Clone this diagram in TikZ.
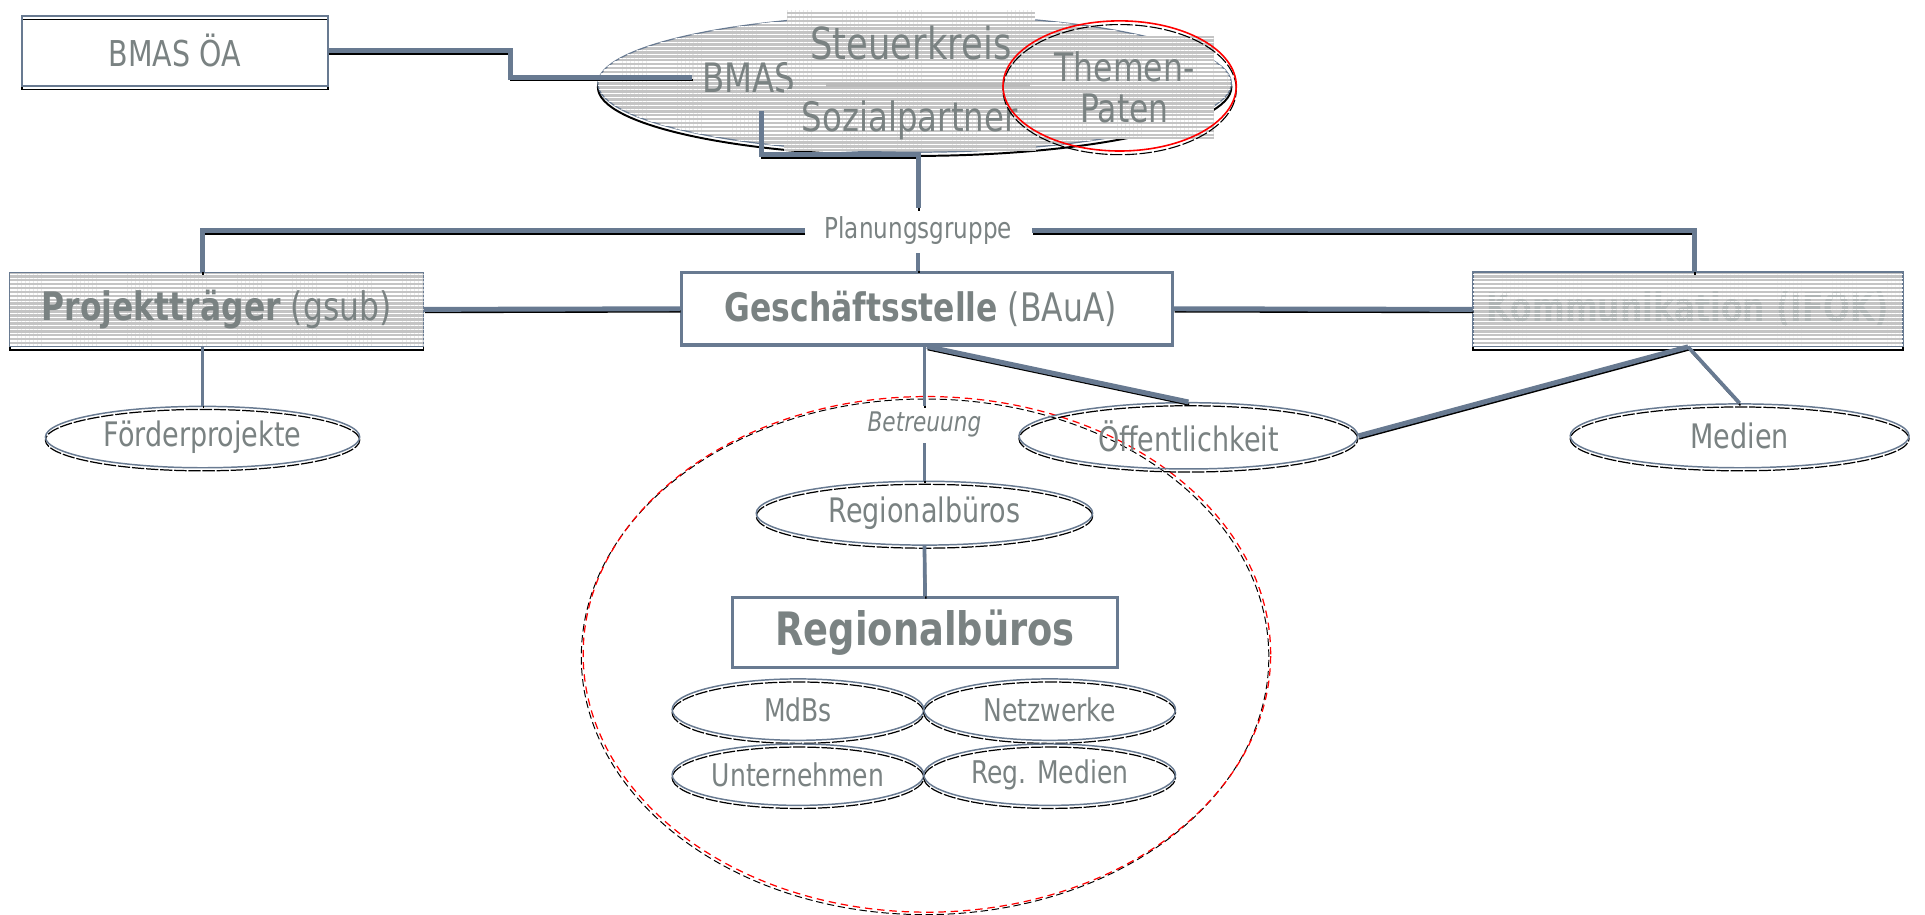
\documentclass[tikz,border=0pt]{standalone}
\usepackage{fontspec}
\setmainfont{DejaVu Sans}[FakeStretch=0.8]
\usetikzlibrary{shapes.geometric,patterns.meta,shadows}
\definecolor{slate}{HTML}{687A91}
\definecolor{txt}{HTML}{7A8282}
\definecolor{stripegray}{HTML}{C4C4C4}
\definecolor{bargray}{HTML}{BABABA}
\newcommand\setfs[1]{\fontsize{#1}{#1}\selectfont}
\tikzset{
  stripes/.style={fill=stripegray, postaction={pattern={Lines[angle=0,distance=3.2pt,line width=1.1pt]}, pattern color=white}},
  plate/.style={rectangle, stripes, text=txt, inner sep=0pt},
  boxw/.style={rectangle, draw=slate, line width=1.3pt, text=txt, inner sep=0pt},
  boxshadow/.style={general shadow={draw=black, line width=1.3pt, shadow yshift=-3pt}},
  ell/.style={ellipse, draw=slate, line width=1.2pt, text=txt, inner sep=0pt,
    general shadow={draw=black, line width=1pt, dash pattern=on 10pt off 1.5pt, shadow yshift=-2.5pt}},
  conn/.style={draw=slate, line width=4pt,
    general shadow={draw=black, line width=1.8pt, shadow yshift=-2.2pt, shadow xshift=0.6pt}},
  connthin/.style={draw=slate, line width=3pt,
    general shadow={draw=black, line width=1.2pt, shadow yshift=-1.8pt, shadow xshift=0.6pt}},
  lbl/.style={text=txt, inner sep=0pt}
}
\begin{document}
\begin{tikzpicture}[x=1pt,y=-1pt]
\useasboundingbox (0,0) rectangle (1568,745);
\fill[white] (0,0) rectangle (1568,745);

% big dashed region
\node[ellipse, draw=red, line width=1pt, dash pattern=on 6pt off 4pt, minimum width=560, minimum height=420, inner sep=0pt,
  general shadow={draw=black, line width=0.8pt, dash pattern=on 6pt off 3pt, shadow yshift=-2pt, shadow xshift=-1.5pt}] (region) at (755,533) {};

% Steuerkreis cluster
\node[ellipse, draw=slate, line width=1pt, stripes, minimum width=516, minimum height=112, inner sep=0pt,
  general shadow={draw=black, line width=1.6pt, shadow yshift=-3pt}] (skell) at (745,68) {};
\node[plate, minimum width=92, minimum height=54, font=\setfs{33}] (bmas) at (610,63) {BMAS};
\node[plate, minimum width=202, minimum height=54, font=\setfs{36}] (steuer) at (742,35) {Steuerkreis};
\node[plate, minimum width=205, minimum height=50, font=\setfs{33}] (sozial) at (741,98) {Sozialpartner};
\fill[bargray] (673,68) rectangle (839,71);
\node[plate, minimum width=145, minimum height=84, align=center, font=\fontsize{32}{33}\selectfont] (themen) at (916,71) {Themen-\\Paten};
\node[ellipse, draw=red, line width=1.3pt, minimum width=190, minimum height=106, inner sep=0pt,
  general shadow={draw=black, line width=0.9pt, dash pattern=on 10pt off 2pt, shadow yshift=-3pt}] (tpell) at (912,70) {};

% BMAS OA
\node[boxw, boxshadow, minimum width=249, minimum height=57, font=\setfs{29}] (bmasoa) at (142.5,41.5) {BMAS ÖA};

% Planungsgruppe
\node[lbl, font=\setfs{23.5}, minimum width=185, minimum height=36] (plan) at (748,188) {Planungsgruppe};

% main row
\node[rectangle, stripes, draw=slate, line width=1pt, text=txt, inner sep=0pt, boxshadow, minimum width=337, minimum height=60, font=\setfs{32}] (pt) at (176.5,252) {\textbf{Projektträger} (gsub)};
\node[boxw, line width=2.5pt, fill=white, minimum width=400, minimum height=59, font=\setfs{32}] (gs) at (755,251.5) {\textbf{Geschäftsstelle} (BAuA)\hspace*{10pt}};
\node[rectangle, stripes, draw=slate, line width=1pt, text=txt!60, inner sep=0pt, boxshadow, minimum width=350, minimum height=60, font=\setfs{32}\bfseries] (kom) at (1375,252) {Kommunikation (IFOK)};
\fill[pattern={Lines[angle=0,distance=3.2pt,line width=1.1pt]}, pattern color=white] (kom.north west) rectangle (kom.south east);
\draw[slate, line width=1pt] (kom.north west) rectangle (kom.south east);

% second row ellipses
\node[ell, minimum width=256, minimum height=50, font=\setfs{27.5}] (fp) at (165,356) {Förderprojekte};
\node[ell, minimum width=276, minimum height=54, font=\setfs{27.5}] (oe) at (968,355) {Öffentlichkeit};
\node[ell, minimum width=276, minimum height=52, font=\setfs{27.5}] (me) at (1417,355) {Medien};

% region content
\node[lbl, font=\setfs{22}\itshape, minimum height=30] (betr) at (753,346) {Betreuung};
\node[ell, minimum width=274, minimum height=52, font=\setfs{27.5}] (rb1) at (753,418) {Regionalbüros};
\node[boxw, line width=2.5pt, fill=white, minimum width=313, minimum height=57, font=\setfs{37.5}] (rb) at (753.5,515.5) {\textbf{Regionalbüros}};
\node[ell, minimum width=205, minimum height=50, font=\setfs{25.5}] (mdb) at (650,578) {MdBs};
\node[ell, minimum width=205, minimum height=50, font=\setfs{25.5}] (nw) at (855,578) {Netzwerke};
\node[ell, minimum width=205, minimum height=50, font=\setfs{25.5}] (un) at (650,631) {Unternehmen};
\node[ell, minimum width=205, minimum height=50, font=\setfs{25.5}] (rm) at (855,631) {Reg. Medien};

% connectors
\draw[conn] (bmasoa.east) -- ++(148,0) |- (bmas.west);
\draw[conn] ([xshift=10pt]bmas.south) -- ++(0,36) -| (plan.north);
\draw[conn] (plan.west) -| ([xshift=-11.5pt]pt.north);
\draw[conn] (plan.east) -| ([xshift=5pt]kom.north);
\draw[connthin] (plan.south) -- (plan.south |- gs.north);
\draw[conn] (pt.east) -- (gs.west);
\draw[conn] (gs.east) -- (kom.west);
\draw[connthin] ([xshift=-11.5pt]pt.south) -- (fp.north);
\draw[conn] (gs.south) -- (oe.north);
\draw[connthin] (betr.north |- gs.south) -- (betr.north);
\draw[conn] (oe.east) -- (kom.south);
\draw[connthin] (kom.south) -- (me.north);
\draw[connthin] (betr.south) -- (rb1.north);
\draw[connthin] (rb1.south) -- (rb.north);
\end{tikzpicture}
\end{document}
